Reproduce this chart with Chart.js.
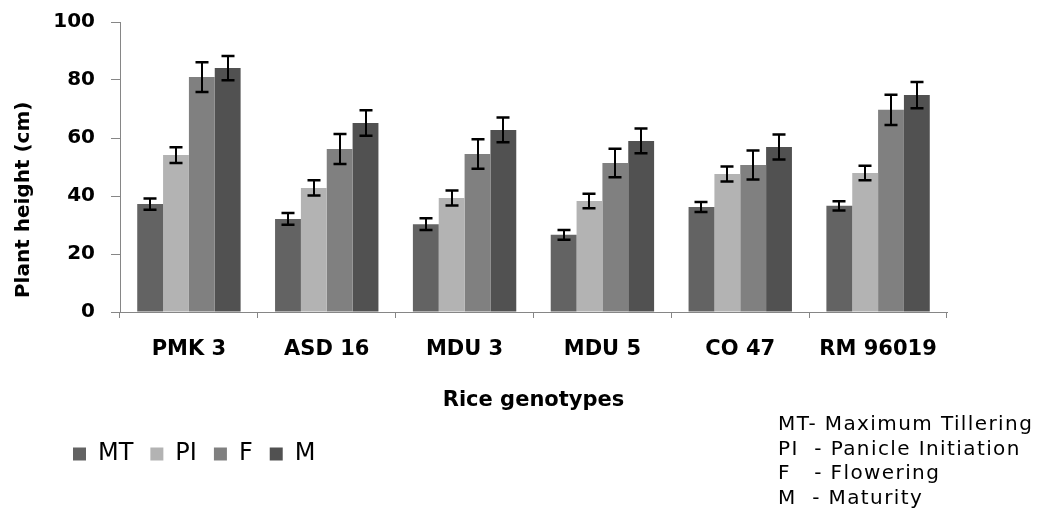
<!DOCTYPE html>
<html>
<head>
<meta charset="utf-8">
<script src="https://cdn.jsdelivr.net/npm/chart.js@4.4.1/dist/chart.umd.min.js"></script>
<style>
  html, body { margin: 0; padding: 0; background: #ffffff; }
  #wrap { position: relative; width: 1037px; height: 509px; }
</style>
</head>
<body>
<div id="wrap"><canvas id="c"></canvas></div>
<script>
const categories = ['PMK 3', 'ASD 16', 'MDU 3', 'MDU 5', 'CO 47', 'RM 96019'];
const seriesNames = ['MT', 'PI', 'F', 'M'];
const mtValues = [37.2, 32.1, 30.3, 26.6, 36.2, 36.6];
const piValues = [54.1, 42.8, 39.3, 38.3, 47.6, 47.9];
const fValues  = [81.0, 56.2, 54.5, 51.4, 50.7, 69.7];
const mValues  = [84.1, 65.2, 62.8, 59.0, 56.9, 74.8];
const mtErrors = [1.9, 2.0, 2.0, 1.7, 1.7, 1.6];
const piErrors = [2.7, 2.6, 2.6, 2.5, 2.6, 2.5];
const fErrors  = [5.1, 5.2, 5.1, 4.9, 5.0, 5.2];
const mErrors  = [4.2, 4.4, 4.3, 4.3, 4.3, 4.5];
const yTickValues = [0, 20, 40, 60, 80, 100];
const notes = ['MT- Maximum Tillering', 'PI  - Panicle Initiation', 'F   - Flowering', 'M  - Maturity'];

const colors = ['#636363', '#b3b3b3', '#808080', '#515151'];
const valueSets = [mtValues, piValues, fValues, mValues];
const errorSets = [mtErrors, piErrors, fErrors, mErrors];

const boldFont = 'DejaVu Sans';

const errorBarPlugin = {
  id: 'errorBars',
  afterDatasetsDraw(chart) {
    const ctx = chart.ctx;
    const yScale = chart.scales.y;
    ctx.save();
    ctx.strokeStyle = '#000000';
    chart.data.datasets.forEach((ds, di) => {
      const meta = chart.getDatasetMeta(di);
      meta.data.forEach((bar, i) => {
        const v = ds.data[i];
        const e = ds.errors[i];
        const x = Math.round(bar.x);
        const yTop = yScale.getPixelForValue(v + e);
        const yBot = yScale.getPixelForValue(v - e);
        const hw = 6.5;
        ctx.lineWidth = 2;
        ctx.beginPath();
        ctx.moveTo(x, yTop); ctx.lineTo(x, yBot);
        ctx.stroke();
        ctx.lineWidth = 2.5;
        ctx.beginPath();
        ctx.moveTo(x - hw, yTop); ctx.lineTo(x + hw, yTop);
        ctx.moveTo(x - hw, yBot); ctx.lineTo(x + hw, yBot);
        ctx.stroke();
      });
    });
    ctx.restore();
  }
};

const notesPlugin = {
  id: 'notes',
  afterDraw(chart) {
    const ctx = chart.ctx;
    ctx.save();
    ctx.fillStyle = '#000000';
    ctx.font = '20px "DejaVu Sans"';
    if ('letterSpacing' in ctx) { ctx.letterSpacing = '1.4px'; }
    ctx.textBaseline = 'middle';
    ctx.textAlign = 'left';
    const startY = 425, step = 24.6, x = 778;
    notes.forEach((t, i) => ctx.fillText(t, x, startY + i * step));
    ctx.restore();
  }
};

const legendShiftPlugin = {
  id: 'legendShift',
  afterLayout(chart) {
    if (chart.legend) { chart.legend.left = 56; }
  }
};

const datasets = seriesNames.map((name, i) => ({
  label: name,
  data: valueSets[i],
  errors: errorSets[i],
  backgroundColor: colors[i],
  borderWidth: 0,
  categoryPercentage: 0.75,
  barPercentage: 1.0
}));

new Chart(document.getElementById('c'), {
  type: 'bar',
  data: { labels: categories, datasets },
  plugins: [errorBarPlugin, notesPlugin, legendShiftPlugin],
  options: {
    responsive: true,
    maintainAspectRatio: false,
    animation: false,
    events: [],
    layout: { padding: { top: 22, right: 90, bottom: 33, left: 0 } },
    plugins: {
      tooltip: { enabled: false },
      legend: {
        display: true,
        position: 'bottom',
        align: 'start',
        labels: {
          boxWidth: 13,
          boxHeight: 13,
          padding: 17,
          color: '#000000',
          font: { family: 'DejaVu Sans', size: 24 }
        }
      }
    },
    scales: {
      x: {
        afterFit(scale) { scale.height = 113; },
        grid: { display: true, drawOnChartArea: false, drawTicks: true, tickLength: 6, color: '#868686', offset: true },
        border: { display: true, color: '#868686', width: 1 },
        ticks: {
          color: '#000000',
          padding: 19,
          maxRotation: 0,
          autoSkip: false,
          font: { family: boldFont, size: 21, weight: 'bold' }
        },
        title: {
          display: true,
          text: 'Rice genotypes',
          color: '#000000',
          padding: { top: 0, bottom: 12 },
          font: { family: boldFont, size: 21, weight: 'bold' }
        }
      },
      y: {
        min: 0,
        max: 100,
        afterFit(scale) { scale.width = 120; scale.paddingTop = 0; scale.paddingBottom = 0; },
        afterBuildTicks(scale) { scale.ticks = yTickValues.map(v => ({ value: v })); },
        grid: { display: true, drawOnChartArea: false, drawTicks: true, tickLength: 9, color: '#868686' },
        border: { display: true, color: '#868686', width: 1 },
        ticks: {
          color: '#000000',
          padding: 16,
          font: { family: boldFont, size: 20, weight: 'bold' }
        },
        title: {
          display: true,
          text: '  Plant height (cm)',
          align: 'start',
          color: '#000000',
          padding: { top: 12, bottom: 0 },
          font: { family: boldFont, size: 20, weight: 'bold' }
        }
      }
    }
  }
});
</script>
</body>
</html>
